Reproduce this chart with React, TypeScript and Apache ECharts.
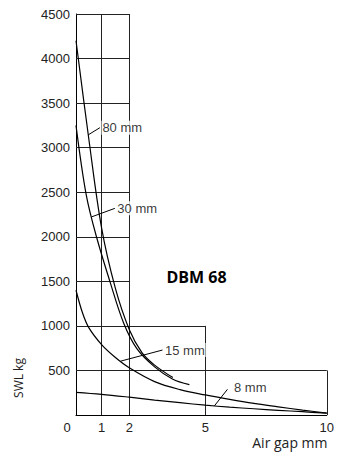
import React, { useEffect, useRef } from "react";
import * as echarts from "echarts";

// Axis ticks (the reference axis is not evenly spaced: tick spots in axis units)
const xTickValues = [0, 1, 2, 5, 10];
const xTickSpots = [0, 1.02, 2.123, 5.159, 10];
const yMax = 4500;
const yInterval = 500;

// Stepped grid: [x extent, top value]
const gridSteps = [
  [2, 4500],
  [5, 1000],
  [10, 500],
];

// Curves (air gap mm -> SWL kg)
const curve80X = [0, 0.5, 1.0, 1.5, 2.0, 2.5, 3.0, 3.72];
const curve80Y = [4200, 3100, 2100, 1420, 960, 700, 560, 420];

const curve30X = [0, 0.4, 0.8, 1.3, 1.8, 2.3, 3.0, 3.7, 4.37];
const curve30Y = [3250, 2470, 2000, 1500, 1030, 745, 540, 405, 340];

const curve15X = [0, 0.25, 0.5, 1, 1.5, 2, 3, 4, 5, 6, 7, 8, 9, 10];
const curve15Y = [1400, 1150, 980, 790, 645, 530, 375, 285, 225, 175, 130, 92, 55, 22];

const curve8X = [0, 1, 2, 3, 4, 5, 6, 7, 8, 9, 10];
const curve8Y = [255, 232, 200, 168, 138, 110, 88, 70, 53, 37, 20];

// Curve labels: name, x on curve where leader starts, label anchor (x, y)
const labelNames = ["80 mm", "30 mm", "15 mm", "8 mm"];
const labelCurveX = [0.48, 0.61, 1.68, 5.37];
const labelAnchorX = [0.934, 1.48, 3.31, 5.91];
const labelAnchorY = [3224, 2319, 729, 288];

function warp(x: number): number {
  const n = xTickValues.length;
  for (let i = 1; i < n; i++) {
    if (x <= xTickValues[i] || i === n - 1) {
      const t = (x - xTickValues[i - 1]) / (xTickValues[i] - xTickValues[i - 1]);
      return xTickSpots[i - 1] + t * (xTickSpots[i] - xTickSpots[i - 1]);
    }
  }
  return x;
}

function interp(xs: number[], ys: number[], x: number): number {
  for (let i = 1; i < xs.length; i++) {
    if (x <= xs[i]) {
      const t = (x - xs[i - 1]) / (xs[i] - xs[i - 1]);
      return ys[i - 1] + t * (ys[i] - ys[i - 1]);
    }
  }
  return ys[ys.length - 1];
}

const curves = [
  [curve80X, curve80Y],
  [curve30X, curve30Y],
  [curve15X, curve15Y],
  [curve8X, curve8Y],
];

export default function App() {
  const ref = useRef<HTMLDivElement>(null);

  useEffect(() => {
    document.body.style.margin = "0";
    if (!ref.current) return;
    const chart = echarts.init(ref.current, null, { renderer: "svg" });

    // grid segments
    const segs: any[] = [];
    const rows: number[] = [];
    for (let v = yInterval; v <= yMax; v += yInterval) rows.push(v);
    rows.forEach((v) => {
      let ext = 0;
      gridSteps.forEach(([sx, top]) => {
        if (top >= v) ext = Math.max(ext, sx);
      });
      segs.push({ coords: [[warp(0), v], [warp(ext), v]] });
    });
    xTickValues.slice(1).forEach((tx) => {
      let top = 0;
      gridSteps.forEach(([sx, st]) => {
        if (sx >= tx) top = Math.max(top, st);
      });
      segs.push({ coords: [[warp(tx), 0], [warp(tx), top]] });
    });

    const curveSeries = curves.map(([xs, ys], i) => ({
      type: "line",
      name: labelNames[i],
      data: xs.map((x, j) => [warp(x), ys[j]]),
      showSymbol: false,
      smooth: 0.35,
      lineStyle: { color: "#000", width: 1.2 },
      z: 3,
      silent: true,
    }));

    const leaders = labelNames.map((_, i) => {
      const [xs, ys] = curves[i];
      const cx = labelCurveX[i];
      return {
        coords: [
          [warp(cx), interp(xs, ys, cx)],
          [warp(labelAnchorX[i]), labelAnchorY[i]],
        ],
      };
    });

    const labelDist = [1, 1, 1, 5];
    const labelOffset = [[0, 0], [0, 0], [0, 0], [0, -2]];
    const font = "Liberation Sans, Arial, sans-serif";

    const option: any = {
      animation: false,
      grid: { left: 76, right: 9, top: 14, bottom: 39, containLabel: false },
      xAxis: {
        type: "value",
        min: 0,
        max: 10,
        axisLine: { show: true, lineStyle: { color: "#000", width: 1 } },
        axisTick: { show: false },
        splitLine: { show: false },
        axisLabel: {
          customValues: xTickValues.map(warp),
          margin: 6,
          color: "#222",
          fontSize: 13,
          fontFamily: font,
          formatter: (v: number) => {
            let idx = 0;
            let best = Infinity;
            xTickSpots.forEach((s, i) => {
              const d = Math.abs(s - v);
              if (d < best) {
                best = d;
                idx = i;
              }
            });
            const t = xTickValues[idx];
            return t === 0 ? "{z|0}" : String(t);
          },
          rich: {
            z: { padding: [0, 18, 0, 0], fontSize: 13, color: "#222", fontFamily: font },
          },
        },
      },
      yAxis: {
        type: "value",
        min: 0,
        max: yMax,
        interval: yInterval,
        axisLine: { show: true, lineStyle: { color: "#000", width: 1 } },
        axisTick: { show: false },
        splitLine: { show: false },
        axisLabel: {
          margin: 6,
          color: "#222",
          fontSize: 13,
          fontFamily: font,
          formatter: (v: number) => (v === 0 ? "" : String(v)),
        },
      },
      series: [
        {
          type: "lines",
          coordinateSystem: "cartesian2d",
          polyline: false,
          silent: true,
          z: 1,
          lineStyle: { color: "#222", width: 1, opacity: 1 },
          data: segs,
        },
        ...curveSeries,
        {
          type: "lines",
          coordinateSystem: "cartesian2d",
          polyline: false,
          silent: true,
          z: 4,
          lineStyle: { color: "#000", width: 1, opacity: 1 },
          data: leaders,
        },
        {
          type: "scatter",
          silent: true,
          z: 10,
          symbolSize: 1,
          itemStyle: { color: "rgba(0,0,0,0)" },
          data: labelNames.map((name, i) => ({
            value: [warp(labelAnchorX[i]), labelAnchorY[i]],
            label: {
              show: true,
              position: "right",
              distance: labelDist[i],
              offset: labelOffset[i],
              formatter: name,
              color: "#000",
              fontSize: 13,
              fontFamily: font,
              backgroundColor: "#fff",
              padding: [1, 1, 0, 1],
            },
          })),
        },
      ],
      graphic: [
        {
          type: "text",
          x: 166.5,
          y: 276.7,
          style: {
            text: "DBM 68",
            fontSize: 16,
            fontWeight: "bold",
            fontFamily: "Open Sans, sans-serif",
            fill: "#000",
            align: "left",
            verticalAlign: "middle",
          },
        },
        {
          type: "text",
          x: 327.5,
          y: 442.5,
          style: {
            text: "Air gap mm",
            fontSize: 14,
            fontFamily: "Open Sans, sans-serif",
            fill: "#222",
            align: "right",
            verticalAlign: "middle",
          },
        },
        {
          type: "text",
          x: 18.7,
          y: 378,
          rotation: Math.PI / 2,
          style: {
            text: "SWL kg",
            fontSize: 12,
            fontFamily: "Open Sans, sans-serif",
            fill: "#222",
            align: "center",
            verticalAlign: "middle",
          },
        },
      ],
    };

    chart.setOption(option);
    return () => chart.dispose();
  }, []);

  return <div ref={ref} style={{ width: 337, height: 454 }} />;
}
